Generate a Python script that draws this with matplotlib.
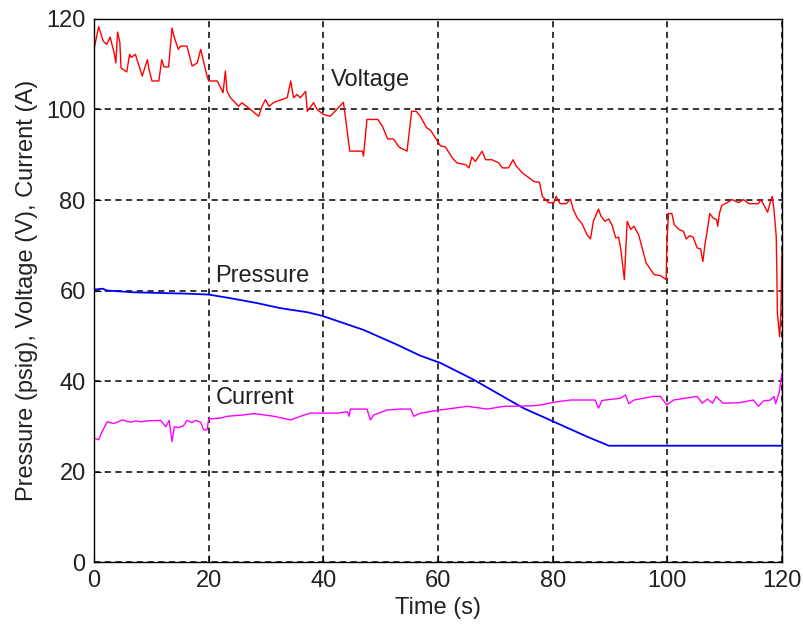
import numpy as np
import matplotlib.pyplot as plt

plt.rcParams['font.family'] = ['Liberation Sans', 'DejaVu Sans']

# Voltage (V)
volt_t = [0, 0.8, 1.6, 2.2, 2.8, 3.5, 3.8, 4.1, 4.5, 4.7, 5.7, 6.2, 6.5, 7.2, 8.4, 9.3, 9.6,
          10.1, 11.3, 11.8, 12.2, 13.0, 13.6, 14.0, 14.7, 15.1, 16.2, 17.1, 18.0, 18.6, 19.7,
          20.0, 21.5, 22.5, 22.9, 23.2, 23.8, 25.2, 25.8, 27.3, 28.7, 29.3, 29.9, 30.5, 31.4,
          32.8, 33.7, 34.3, 34.8, 35.4, 36.0, 36.9, 37.2, 38.3, 38.9, 40.0, 41.2, 43.5, 43.9,
          44.6, 46.8, 47.0, 47.6, 49.5, 50.3, 51.2, 52.2, 53.2, 54.6, 55.4, 56.2, 56.9, 58.0,
          58.7, 60.4, 61.3, 62.5, 63.3, 64.8, 65.4, 65.9, 66.5, 67.7, 68.3, 69.4, 70.6, 71.2,
          72.3, 73.1, 73.6, 74.7, 76.1, 76.7, 77.7, 78.2, 79.3, 80.2, 80.6, 81.3, 82.4, 83.1,
          83.6, 84.3, 85.1, 86.0, 86.6, 87.1, 88.0, 88.4, 89.1, 89.8, 90.4, 91.0, 91.5, 91.9,
          92.5, 93.0, 93.6, 94.2, 95.0, 95.6, 96.3, 97.7, 98.8, 99.8, 99.9, 100.2, 100.8, 101.2,
          102.0, 102.8, 103.3, 103.9, 104.5, 105.2, 105.8, 106.2, 106.6, 107.0, 107.4, 108.0,
          108.6, 108.8, 109.1, 109.5, 110.4, 111.3, 112.4, 113.3, 114.2, 115.9, 116.3, 116.8,
          117.5, 118.0, 118.3, 118.6, 119.0, 119.1, 119.2, 119.6, 119.8, 120.0]
volt_v = [113.4, 118.3, 115.1, 114.4, 116.0, 112.5, 110.3, 117.1, 114.8, 109.2, 108.3, 112.2,
          111.5, 112.2, 107.4, 111.0, 108.8, 106.3, 106.3, 111.0, 109.4, 109.4, 118.0, 115.9,
          113.3, 114.0, 114.0, 109.6, 110.3, 113.3, 107.4, 106.3, 106.3, 103.7, 108.5, 104.0,
          102.6, 100.7, 101.5, 100.0, 98.5, 100.7, 102.2, 100.7, 101.6, 102.2, 102.6, 106.3,
          102.6, 103.3, 102.6, 104.0, 99.6, 101.5, 100.0, 98.9, 98.5, 101.6, 97.8, 90.8, 90.8,
          89.7, 97.8, 97.8, 96.3, 93.5, 93.5, 91.7, 90.8, 99.6, 99.6, 98.5, 96.0, 95.4, 92.0,
          91.7, 89.3, 88.2, 87.8, 87.1, 89.5, 88.5, 90.8, 88.9, 88.9, 88.2, 87.1, 87.1, 88.9,
          87.6, 86.0, 84.7, 84.1, 83.9, 80.8, 79.4, 79.4, 80.8, 79.2, 79.2, 80.2, 77.9, 76.0,
          74.8, 72.3, 71.4, 75.3, 78.0, 76.5, 75.3, 75.8, 74.3, 71.6, 71.8, 69.0, 62.4, 75.3,
          73.5, 74.2, 72.3, 69.4, 66.1, 63.5, 63.3, 62.4, 69.8, 77.0, 77.0, 74.6, 73.5, 73.1,
          71.4, 72.1, 71.8, 69.4, 69.2, 66.4, 70.5, 73.5, 77.0, 76.0, 75.7, 74.2, 77.1, 78.8,
          79.4, 80.1, 79.4, 80.1, 79.2, 79.2, 80.1, 79.0, 77.3, 79.7, 80.8, 77.9, 72.0, 64.6,
          55.0, 49.8, 55.0, 68.3]

# Pressure (psig)
pres_t = [0, 1.5, 2.3, 6.9, 16.3, 20.0, 23.8, 28.5, 32.5, 37.2, 39.8, 47.0, 52.9, 56.9,
          60.4, 66.2, 74.9, 80.2, 86.0, 89.8, 120.0]
pres_v = [60.2, 60.4, 60.0, 59.6, 59.3, 59.1, 58.3, 57.2, 56.1, 55.2, 54.4, 51.3, 48.0,
          45.6, 44.0, 40.3, 34.0, 31.0, 27.7, 25.7, 25.7]

# Current (A)
curr_t = [0, 0.8, 1.4, 2.3, 2.9, 3.5, 4.9, 6.4, 7.3, 8.2, 9.4, 11.6, 12.5, 13.1, 13.6, 14.0,
          14.7, 15.6, 16.2, 17.1, 17.7, 18.6, 19.1, 19.7, 20.0, 22.0, 23.2, 26.1, 27.9, 31.4,
          34.3, 36.0, 37.7, 40.1, 42.4, 44.2, 44.5, 44.7, 47.6, 48.2, 48.8, 51.1, 53.4, 55.2,
          55.8, 56.9, 60.4, 65.1, 68.6, 71.5, 76.1, 77.9, 80.2, 83.1, 87.4, 88.0, 88.6, 91.8,
          92.7, 93.3, 94.2, 97.6, 98.8, 99.9, 101.1, 105.2, 106.1, 107.0, 107.9, 108.5, 109.7,
          112.6, 115.0, 115.9, 116.8, 118.0, 118.6, 118.9, 119.5, 120.0]
curr_v = [27.4, 27.0, 28.8, 31.0, 30.8, 30.6, 31.4, 30.9, 31.2, 31.0, 31.2, 31.3, 29.9, 31.3,
          26.6, 29.9, 29.7, 30.1, 31.3, 30.8, 31.3, 30.9, 29.2, 29.2, 31.6, 31.8, 32.2, 32.5,
          32.8, 32.2, 31.4, 32.2, 32.9, 32.9, 32.9, 33.2, 32.2, 33.8, 33.8, 31.4, 32.5, 33.6,
          33.8, 33.8, 32.2, 32.9, 33.6, 34.4, 33.8, 34.4, 34.5, 34.7, 35.3, 35.8, 35.8, 34.0,
          35.7, 36.2, 36.9, 35.0, 35.8, 36.6, 36.6, 34.7, 35.8, 36.6, 35.1, 36.0, 35.1, 36.6,
          35.1, 35.2, 35.8, 34.4, 35.6, 35.8, 36.6, 35.0, 37.4, 41.7]

fig = plt.figure(figsize=(8.04, 6.29), dpi=100, facecolor="white")
ax = fig.add_axes([0.117, 0.1065, 0.8556, 0.8633])

ax.plot(volt_t, volt_v, color="#ff0000", linewidth=1.0)
ax.plot(pres_t, pres_v, color="#0000ff", linewidth=1.3)
ax.plot(curr_t, curr_v, color="#ff00ff", linewidth=1.0)

fs = 17
ax.text(41.3, 105.2, "Voltage", fontsize=fs, color="#222222")
ax.text(21.2, 61.9, "Pressure", fontsize=fs, color="#222222")
ax.text(21.2, 35.0, "Current", fontsize=fs, color="#222222")

ax.set_xlim(0, 120)
ax.set_ylim(0, 120)
ax.set_xticks(np.arange(0, 121, 20))
ax.set_yticks(np.arange(0, 121, 20))
ax.grid(True, color="black", linestyle=(0, (4, 3)), linewidth=1.1)
ax.tick_params(labelsize=fs, labelcolor="#222222", direction="in", length=5, pad=6,
               color="black")
for s in ax.spines.values():
    s.set_linewidth(1.0)

ax.set_xlabel("Time (s)", fontsize=fs, color="#222222", labelpad=3)
ax.set_ylabel("Pressure (psig), Voltage (V), Current (A)", fontsize=fs, color="#222222",
              labelpad=6)

fig.savefig("out.png", dpi=100)
